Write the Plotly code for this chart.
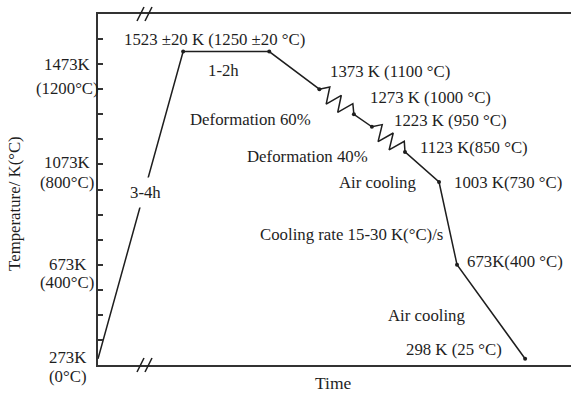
import numpy as np
import plotly.graph_objects as go

# Thermo-mechanical schedule: schematic time (arbitrary units) vs temperature (K)
time_pts = [0.0, 18.0, 36.2, 46.8, 54.1, 57.9, 64.9, 72.1, 75.9, 90.3]
temp_k = [298, 1523, 1523, 1373, 1273, 1223, 1123, 1003, 673, 298]
# indices of segments drawn as deformation (spring-like zigzag)
deform_segments = [(3, 4), (5, 6)]

# y-axis labels: (text, y in K)
ytick_labels = [
    ("1473K", 1470), ("(1200°C)", 1374),
    ("1073K", 1079), ("(800°C)", 999),
    ("673K", 672), ("(400°C)", 604),
    ("273K", 301), ("(0°C)", 229),
]

# point / stage annotations: (text, x, y, xanchor)
notes = [
    ("1523 ±20 K (1250 ±20 °C)", 24.7, 1573, "center"),
    ("1-2h", 26.6, 1446, "center"),
    ("1373 K (1100 °C)", 48.6, 1442, "left"),
    ("1273 K (1000 °C)", 57.1, 1338, "left"),
    ("1223 K (950 °C)", 62.2, 1250, "left"),
    ("1123 K(850 °C)", 67.7, 1139, "left"),
    ("Deformation 60%", 45.5, 1254, "right"),
    ("Deformation 40%", 57.5, 1103, "right"),
    ("Air cooling", 59.2, 999, "center"),
    ("1003 K(730 °C)", 74.8, 999, "left"),
    ("Cooling rate 15-30 K(°C)/s", 73.4, 792, "right"),
    ("673K(400 °C)", 77.6, 684, "left"),
    ("Air cooling", 69.6, 472, "center"),
    ("298 K (25 °C)", 75.3, 333, "center"),
]

W, H = 571, 394
M = dict(l=98, r=0, t=14, b=29)
X_RANGE = [0, 100]
Y_RANGE = [273, 1673]
FONT = "Liberation Serif, Times New Roman, serif"
INK = "#1e1e1e"
FS = 16.8

plot_w = W - M["l"] - M["r"]
plot_h = H - M["t"] - M["b"]
sx = plot_w / (X_RANGE[1] - X_RANGE[0])
sy = plot_h / (Y_RANGE[1] - Y_RANGE[0])


def zigzag(x0, y0, x1, y1, cycles=3, amp_px=8.0):
    """Spring-like zigzag between two data points (perpendicular offset in px)."""
    px0, py0, px1, py1 = x0 * sx, y0 * sy, x1 * sx, y1 * sy
    dx, dy = px1 - px0, py1 - py0
    length = np.hypot(dx, dy)
    nx, ny = -dy / length, dx / length
    n = cycles * 2
    xs, ys = [], []
    for k in range(n + 1):
        t = k / n
        off = 0.0 if k in (0, n) else (amp_px if k % 2 else -amp_px)
        xs.append((px0 + dx * t + nx * off) / sx)
        ys.append((py0 + dy * t + ny * off) / sy)
    return xs, ys


def to_paper_y(k):
    return (k - Y_RANGE[0]) / (Y_RANGE[1] - Y_RANGE[0])


# build the poly-line with zigzag insertions
line_x, line_y = [time_pts[0]], [temp_k[0]]
for i in range(1, len(time_pts)):
    if (i - 1, i) in deform_segments:
        zx, zy = zigzag(time_pts[i - 1], temp_k[i - 1], time_pts[i], temp_k[i])
        line_x += zx[1:]
        line_y += zy[1:]
    else:
        line_x.append(time_pts[i])
        line_y.append(temp_k[i])

fig = go.Figure()
fig.add_trace(go.Scatter(x=line_x, y=line_y, mode="lines",
                         line=dict(color=INK, width=1.5), hoverinfo="skip"))
fig.add_trace(go.Scatter(x=time_pts[1:], y=temp_k[1:], mode="markers",
                         marker=dict(color=INK, size=4), hoverinfo="skip"))

annotations = []
for text, yv in ytick_labels:
    annotations.append(dict(text=text, x=0, xref="paper", y=to_paper_y(yv),
                            yref="paper", xshift=-31, xanchor="center",
                            yanchor="middle", showarrow=False))
for text, xv, yv, xa in notes:
    annotations.append(dict(text=text, x=xv, y=yv, xref="x", yref="y",
                            xanchor=xa, yanchor="middle", showarrow=False))
annotations.append(dict(text="3-4h", x=10.1, y=963, xref="x", yref="y",
                        xanchor="center", yanchor="middle",
                        showarrow=False, bgcolor="white", borderpad=5))
annotations.append(dict(text="Temperature/ K(°C)", x=0, xref="paper",
                        xshift=-83, y=0.459, yref="paper", textangle=-90,
                        xanchor="center", yanchor="middle",
                        showarrow=False, font=dict(size=16.8)))
annotations.append(dict(text="Time", x=49.7, xref="x", y=-0.051, yref="paper",
                        xanchor="center", yanchor="middle",
                        showarrow=False, font=dict(size=17.5)))

# axis-break marks on the top and bottom axis lines
shapes = []
for base in (0.0, 1.0):
    for off in (0, 8):
        shapes.append(dict(type="line", xref="paper", yref="paper",
                           x0=(137 + off - M["l"]) / plot_w,
                           x1=(144 + off - M["l"]) / plot_w,
                           y0=base - 7 / plot_h, y1=base + 7 / plot_h,
                           line=dict(color=INK, width=1.5)))

fig.update_layout(
    width=W, height=H, margin=M,
    paper_bgcolor="white", plot_bgcolor="white",
    showlegend=False,
    font=dict(family=FONT, size=FS, color=INK),
    annotations=annotations,
    shapes=shapes,
    xaxis=dict(range=X_RANGE, showgrid=False, zeroline=False,
               showline=True, mirror=True, linecolor="#333", linewidth=2,
               showticklabels=False, ticks=""),
    yaxis=dict(range=Y_RANGE, showgrid=False, zeroline=False,
               showline=True, linecolor="#333", linewidth=2,
               tickvals=list(range(373, 1600, 100)), ticks="inside",
               ticklen=5, tickwidth=1.5, tickcolor="#333",
               showticklabels=False),
)

fig.write_html("out.html")
